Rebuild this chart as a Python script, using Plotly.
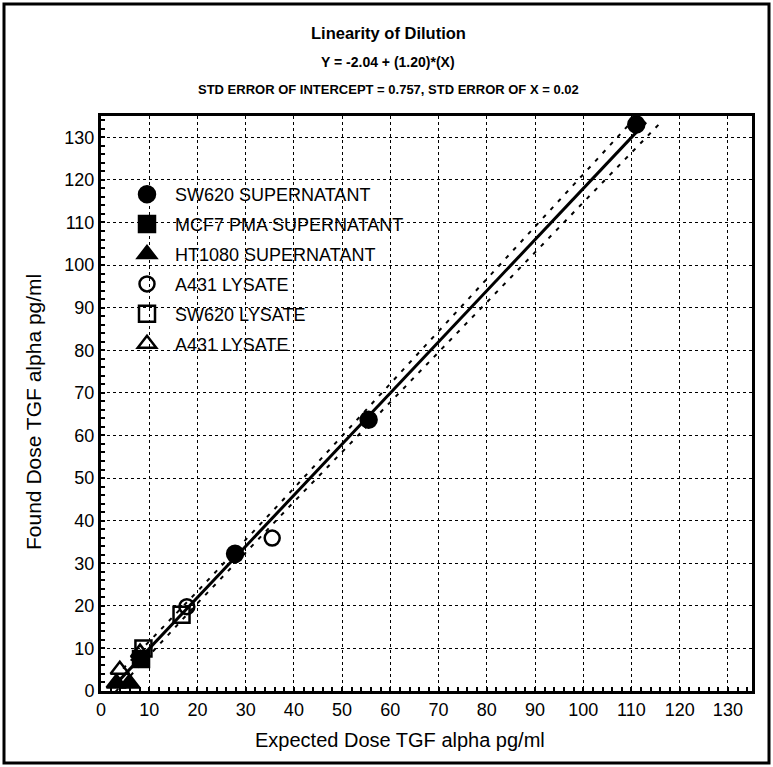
import plotly.graph_objects as go

# ---------------- data ----------------
sw620_sup_x = [111.0, 55.5, 27.8]
sw620_sup_y = [133.0, 63.7, 32.2]

mcf7_x = [8.3]
mcf7_y = [7.5]

ht1080_x = [3.2, 5.9]
ht1080_y = [1.8, 1.8]

a431_lys_circle_x = [35.5, 17.8]
a431_lys_circle_y = [35.9, 19.8]

sw620_lys_x = [16.7, 8.8]
sw620_lys_y = [17.9, 10.0]

a431_lys_tri_x = [8.1, 3.9]
a431_lys_tri_y = [9.0, 5.0]

# regression from the title
INTERCEPT = -2.04
SLOPE = 1.20
fit_x = [3.0, 113.0]
fit_y = [INTERCEPT + SLOPE * v for v in fit_x]

# confidence band
band_x = [3, 20, 40, 60, 80, 100, 116]
band_upper = [3.4, 23.4, 47.6, 72.1, 96.7, 121.3, 141.0]
band_lower = [-0.2, 20.6, 44.4, 67.9, 91.3, 114.7, 133.4]

x_ticks = list(range(0, 131, 10))
y_ticks = list(range(0, 131, 10))

title_main = "Linearity of Dilution"
title_eq = "Y = -2.04 + (1.20)*(X)"
title_err = "STD ERROR OF INTERCEPT = 0.757, STD ERROR OF X = 0.02"
x_title = "Expected Dose TGF alpha pg/ml"
y_title = "Found Dose TGF alpha pg/ml"

# ---------------- layout constants ----------------
W, H = 773, 767
L, R, T, B = 101, 21, 116, 76
PW, PH = W - L - R, H - T - B
FONT = "Liberation Sans, Arial, sans-serif"


def px_x(p):
    return (p - L) / PW


def px_y(p):
    return (H - B - p) / PH


fig = go.Figure()

# confidence band and fit line
fig.add_trace(go.Scatter(x=band_x, y=band_upper, mode="lines", showlegend=False,
                         line=dict(color="black", width=2, dash="4px,7px"), hoverinfo="skip"))
fig.add_trace(go.Scatter(x=band_x, y=band_lower, mode="lines", showlegend=False,
                         line=dict(color="black", width=2, dash="4px,7px"), hoverinfo="skip"))
fig.add_trace(go.Scatter(x=fit_x, y=fit_y, mode="lines", showlegend=False,
                         line=dict(color="black", width=3), hoverinfo="skip"))

series = [
    ("SW620 SUPERNATANT", sw620_sup_x, sw620_sup_y, "circle", 16),
    ("MCF7 PMA SUPERNATANT", mcf7_x, mcf7_y, "square", 16),
    ("HT1080 SUPERNATANT", ht1080_x, ht1080_y, "triangle-up", 17),
    ("A431 LYSATE", a431_lys_circle_x, a431_lys_circle_y, "circle-open", 15),
    ("SW620 LYSATE", sw620_lys_x, sw620_lys_y, "square-open", 16),
    ("A431 LYSATE", a431_lys_tri_x, a431_lys_tri_y, "triangle-up-open", 16),
]
for i, (name, xs, ys, sym, sz) in enumerate(series):
    fig.add_trace(go.Scatter(
        x=xs, y=ys, mode="markers", name=name, legendgroup="g%d" % i,
        marker=dict(symbol=sym, size=sz, color="black",
                    line=dict(color="black", width=2.5)),
    ))

axis_common = dict(
    range=[0, 135], showline=True, linecolor="black", linewidth=3, mirror=True,
    showgrid=True, gridcolor="black", gridwidth=1, griddash="dot",
    ticks="inside", ticklen=4, tickwidth=2, tickcolor="black",
    tickfont=dict(family=FONT, size=18, color="black"),
    zeroline=False,
    minor=dict(dtick=2, ticks="inside", ticklen=4, tickwidth=2, tickcolor="black", showgrid=False),
)
fig.update_xaxes(tickvals=x_ticks, **axis_common)
fig.update_yaxes(tickvals=y_ticks, **axis_common)

annotations = [
    dict(text="<b>%s</b>" % title_main, x=px_x(388), y=px_y(33), font=dict(family=FONT, size=16.5)),
    dict(text="<b>%s</b>" % title_eq, x=px_x(388), y=px_y(62), font=dict(family=FONT, size=14)),
    dict(text="<b>%s</b>" % title_err, x=px_x(388), y=px_y(89), font=dict(family=FONT, size=13)),
    dict(text=x_title, x=px_x(400), y=px_y(740), font=dict(family=FONT, size=20)),
    dict(text=y_title, x=px_x(33), y=px_y(412), textangle=-90, font=dict(family=FONT, size=21)),
]
for a in annotations:
    a.update(xref="paper", yref="paper", showarrow=False, xanchor="center", yanchor="middle")
    a["font"]["color"] = "black"

fig.update_layout(
    width=W, height=H,
    margin=dict(l=L, r=R, t=T, b=B, autoexpand=False),
    paper_bgcolor="white", plot_bgcolor="white",
    annotations=annotations,
    showlegend=True,
    legend=dict(x=px_x(119), y=px_y(176), xanchor="left", yanchor="top",
                bgcolor="rgba(0,0,0,0)", borderwidth=0, itemwidth=46,
                tracegroupgap=3.5,
                font=dict(family=FONT, size=18, color="black")),
    shapes=[dict(type="rect", xref="paper", yref="paper",
                 x0=px_x(4), x1=px_x(769), y0=px_y(4), y1=px_y(763),
                 line=dict(color="black", width=3), layer="above")],
)

fig.write_html("out.html")
